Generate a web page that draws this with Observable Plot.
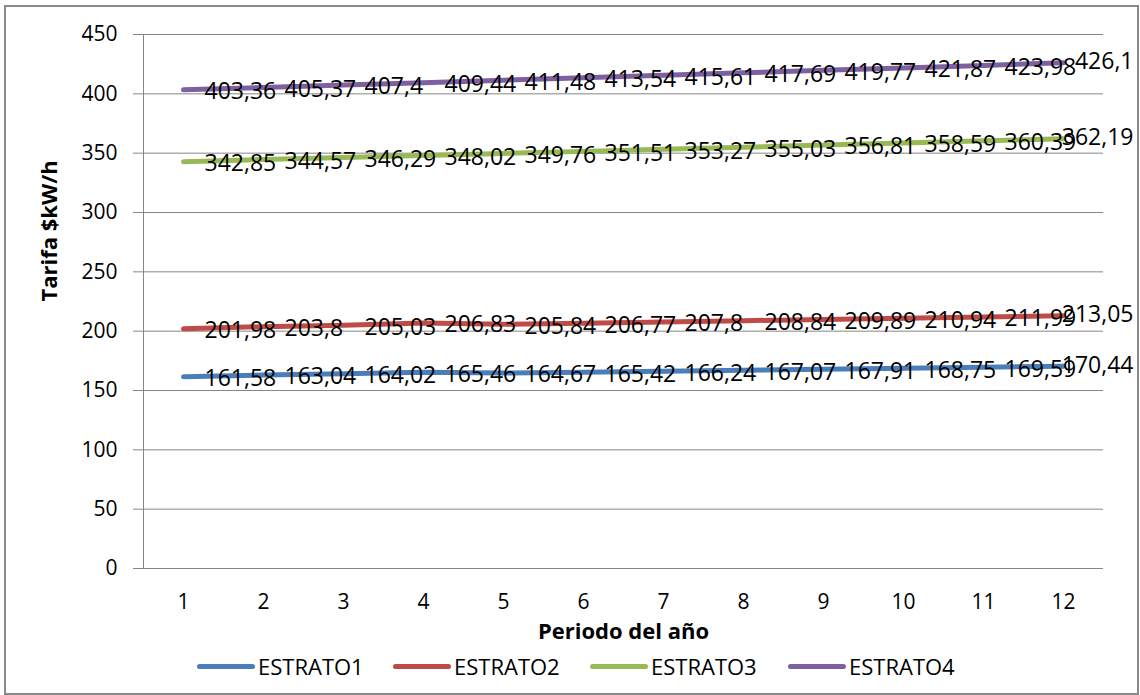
<!DOCTYPE html>
<html>
<head>
<meta charset="utf-8">
<script src="https://cdn.jsdelivr.net/npm/d3@7"></script>
<script src="https://cdn.jsdelivr.net/npm/@observablehq/plot@0.6"></script>
<style>
  html, body { margin: 0; padding: 0; background: #fff; }
  #wrap { position: relative; width: 1140px; height: 695px; overflow: hidden; font-family: "Open Sans", sans-serif; }
  #border { position: absolute; left: 4px; top: 5px; width: 1131px; height: 686px; border: 2px solid #8a8a8a; }
  #chart { position: absolute; left: 0; top: 0; }
  #legend { position: absolute; left: 0; top: 651px; width: 1140px; height: 30px; }
  .item { position: absolute; top: 0; height: 30px; display: flex; align-items: center; font-size: 22px; color: #000; }
  .swatch { display: inline-block; height: 5px; border-radius: 3px; margin-right: 3px; }
</style>
</head>
<body>
<div id="wrap">
  <div id="border"></div>
  <div id="chart"></div>
  <div id="legend"></div>
</div>
<script>
const periods = [1,2,3,4,5,6,7,8,9,10,11,12];
const seriesNames = ["ESTRATO1","ESTRATO2","ESTRATO3","ESTRATO4"];
const estrato1 = [161.58,163.04,164.02,165.46,164.67,165.42,166.24,167.07,167.91,168.75,169.59,170.44];
const estrato2 = [201.98,203.8,205.03,206.83,205.84,206.77,207.8,208.84,209.89,210.94,211.99,213.05];
const estrato3 = [342.85,344.57,346.29,348.02,349.76,351.51,353.27,355.03,356.81,358.59,360.39,362.19];
const estrato4 = [403.36,405.37,407.4,409.44,411.48,413.54,415.61,417.69,419.77,421.87,423.98,426.1];
const yTicks = [0,50,100,150,200,250,300,350,400,450];
const colors = ["#4a7ebb","#be4b48","#98b954","#7d60a0"];
const xTitle = "Periodo del año";
const yTitle = "Tarifa $kW/h";

const allSeries = [estrato1, estrato2, estrato3, estrato4];
const data = [];
allSeries.forEach((vals, si) => {
  vals.forEach((v, i) => data.push({serie: seriesNames[si], periodo: periods[i], valor: v}));
});
const lastPeriod = periods[periods.length - 1];
const fmt = v => String(v).replace(".", ",");
const inner = data.filter(d => d.periodo !== lastPeriod);
const last = data.filter(d => d.periodo === lastPeriod);

const plot = Plot.plot({
  width: 1140,
  height: 650,
  marginLeft: 143,
  marginRight: 37,
  marginTop: 34,
  marginBottom: 82,
  style: {fontFamily: "'Open Sans', sans-serif", fontSize: "21px", color: "#000", background: "transparent"},
  x: {type: "linear", domain: [0.5, 12.5]},
  y: {domain: [0, 450]},
  color: {domain: seriesNames, range: colors},
  marks: [
    Plot.ruleY(yTicks, {stroke: "#868686", strokeWidth: 1, strokeOpacity: 1}),
    Plot.ruleX([0.5], {stroke: "#868686", strokeWidth: 1}),
    Plot.axisY(yTicks, {tickSize: 10, tickPadding: 16, stroke: "#868686", label: null, fontSize: 21, fill: "#000"}),
    Plot.axisX(periods, {tickSize: 0, tickPadding: 26, label: null, fontSize: 21, fill: "#000"}),
    Plot.line(data, {x: "periodo", y: "valor", z: "serie", stroke: "serie", strokeWidth: 5, strokeLinecap: "round"}),
    Plot.text(inner, {x: "periodo", y: "valor", text: d => fmt(d.valor), textAnchor: "start", dx: 21, dy: 2, fontSize: 23, fill: "#000"}),
    Plot.text(last, {x: "periodo", y: "valor", text: d => fmt(d.valor), textAnchor: "end", dx: 70, dy: -1, fontSize: 23, fill: "#000"}),
    Plot.text([xTitle], {frameAnchor: "bottom", dy: 70, text: d => d, fontWeight: "bold", fontSize: 22, fill: "#000"}),
    Plot.text([yTitle], {frameAnchor: "left", dx: -94, rotate: -90, text: d => d, fontWeight: "bold", fontSize: 22, fill: "#000"})
  ]
});
document.getElementById("chart").appendChild(plot);

const legendPos = [197, 393, 590, 788];
const legend = document.getElementById("legend");
seriesNames.forEach((name, i) => {
  const item = document.createElement("div");
  item.className = "item";
  item.style.left = legendPos[i] + "px";
  const sw = document.createElement("span");
  sw.className = "swatch";
  sw.style.width = "58px";
  sw.style.background = colors[i];
  const t = document.createElement("span");
  t.textContent = name;
  item.appendChild(sw);
  item.appendChild(t);
  legend.appendChild(item);
});
</script>
</body>
</html>
